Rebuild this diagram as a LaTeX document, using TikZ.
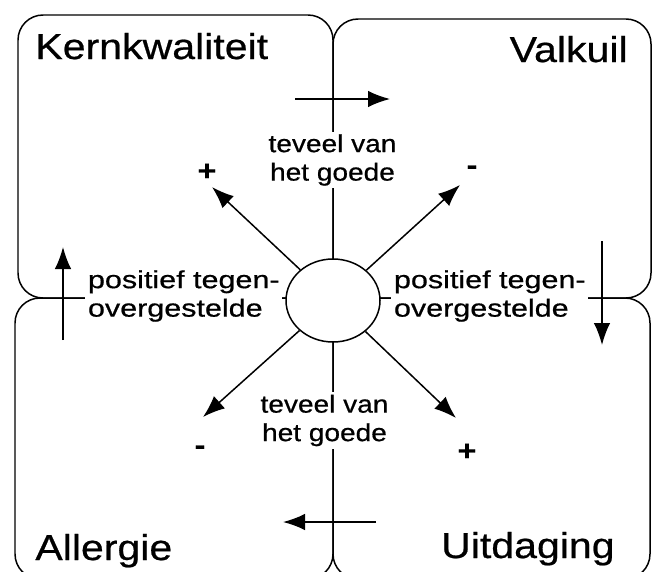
\documentclass[tikz,border=0pt]{standalone}
\usepackage{fontspec}
\setmainfont{Liberation Sans}[FakeStretch=1.14,FakeBold=0.6]
\newfontfamily\widefont{Liberation Sans}[FakeStretch=1.24,FakeBold=0.6]
\usetikzlibrary{shapes.geometric,arrows.meta}

\begin{document}
\begin{tikzpicture}[
		quadrant/.style={draw,line width=0.85pt,rounded corners=0.5cm},
		title/.style={font=\fontsize{20.5}{24}\selectfont,inner sep=0pt},
		axislabel/.style={font=\fontsize{14}{16.2}\selectfont,fill=white,inner sep=1.5pt},
		sign/.style={font=\fontsize{16}{18}\selectfont\bfseries,inner sep=0pt},
		arr/.style={-{Latex[length=0.44cm,width=0.33cm]},line width=0.85pt}
	]
		\useasboundingbox (0,0) rectangle (13.2,11.42);
		
		% Quadrants
		\draw[quadrant] (0.36,11.12) rectangle (6.66,5.46);
		\draw[quadrant] (6.66,11.04) rectangle (13.02,5.46);
		\draw[quadrant] (0.30,5.46) rectangle (6.66,-0.16);
		\draw[quadrant] (6.66,5.46) rectangle (13.00,-0.16);
		
		% Titles
		\node[title,anchor=base west] (kern) at (0.70,10.24) {Kernkwaliteit};
		\node[title,anchor=base east] (valk) at (12.56,10.18) {Valkuil};
		\node[title,anchor=base west] (allerg) at (0.70,0.22) {Allergie};
		\node[title,anchor=base east] (uitd) at (12.30,0.26) {Uitdaging};
		
		% Axis labels
		\node[axislabel,align=center] (tevt) at (6.65,8.22) {teveel van\\het goede};
		\node[axislabel,align=center] (tevb) at (6.49,3.01) {teveel van\\het goede};
		\node[axislabel,align=left,anchor=west] (posl) at (1.70,5.50) {\widefont positief tegen-\\\widefont overgestelde};
		\node[axislabel,align=left,anchor=west] (posr) at (7.82,5.50) {\widefont positief tegen-\\\widefont overgestelde};
		
		% Centre
		\node[draw,ellipse,fill=white,line width=0.85pt,minimum width=1.88cm,minimum height=1.66cm,inner sep=0pt] (core) at (6.66,5.41) {};
		
		% Signs
		\node[sign] (pnw) at (4.14,7.98) {+};
		\node[sign] (mne) at (9.44,8.02) {-};
		\node[sign] (msw) at (4.00,2.42) {-};
		\node[sign] (pse) at (9.34,2.38) {+};
		
		% Arrow ends
		\coordinate (nw) at (4.24,7.68);
		\coordinate (ne) at (9.20,7.72);
		\coordinate (sw) at (4.06,3.08);
		\coordinate (se) at (9.12,3.06);
		\coordinate (ta) at (5.90,9.44);
		\coordinate (tb) at (7.80,9.44);
		\coordinate (la) at (1.26,4.62);
		\coordinate (lb) at (1.26,6.48);
		\coordinate (ra) at (12.04,6.60);
		\coordinate (rb) at (12.04,4.52);
		\coordinate (ba) at (7.52,0.98);
		\coordinate (bb) at (5.66,0.98);
		
		% Arrows
		\draw[arr] (core) -- (nw);
		\draw[arr] (core) -- (ne);
		\draw[arr] (core) -- (sw);
		\draw[arr] (core) -- (se);
		\draw[arr] (ta) -- (tb);
		\draw[arr] (la) -- (lb);
		\draw[arr] (ra) -- (rb);
		\draw[arr] (ba) -- (bb);
		
	\end{tikzpicture}
\end{document}
